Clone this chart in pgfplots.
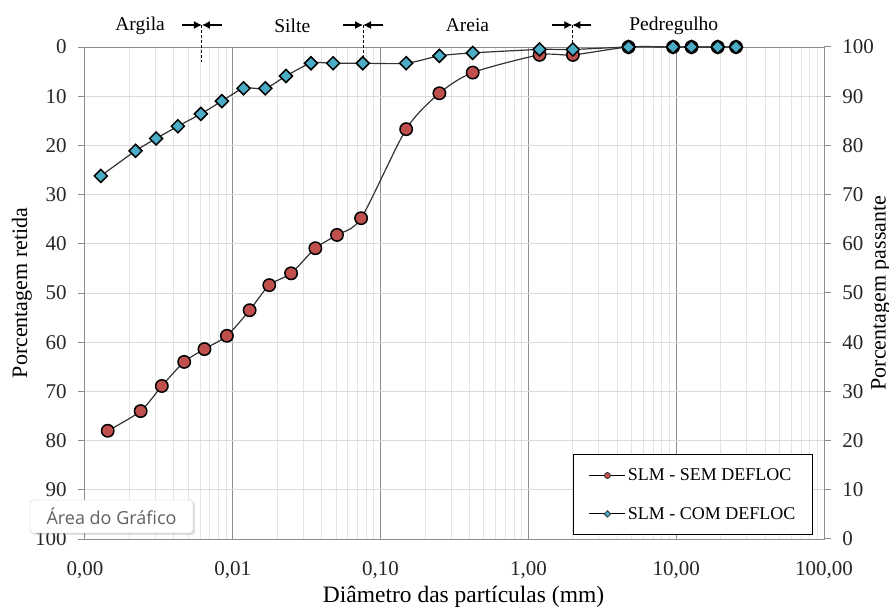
\documentclass[border=0pt]{standalone}
\usepackage{fontspec}
\setmainfont{Liberation Serif}
\newfontfamily\uifont{Open Sans}
\usepackage{pgfplots}
\pgfplotsset{compat=1.18}
\usetikzlibrary{arrows.meta,shadows}
\definecolor{redc}{HTML}{C0504D}
\definecolor{bluec}{HTML}{4BACC6}
\definecolor{axgray}{HTML}{8C8C8C}
\definecolor{gridlight}{HTML}{D9D9D9}
\definecolor{gridminor}{HTML}{E4E4E4}
\definecolor{linec}{HTML}{333333}
\begin{document}
\begin{tikzpicture}
\path[use as bounding box] (-85pt,-71pt) rectangle (804pt,539pt);
\begin{axis}[
  at={(0pt,0pt)}, anchor=south west, scale only axis,
  width=739pt, height=492pt,
  xmode=log, xmin=0.001, xmax=100,
  ymin=0, ymax=100, y dir=reverse,
  clip=false,
  axis line style={draw=axgray, line width=1pt},
  xtick={0.001,0.01,0.1,1,10,100},
  xticklabels={{0,00},{0,01},{0,10},{1,00},{10,00},{100,00}},
  minor xtick={0.002,0.003,0.004,0.005,0.006,0.007,0.008,0.009,
               0.02,0.03,0.04,0.05,0.06,0.07,0.08,0.09,
               0.2,0.3,0.4,0.5,0.6,0.7,0.8,0.9,
               2,3,4,5,6,7,8,9,20,30,40,50,60,70,80,90},
  xtick style={draw=none}, minor tick style={draw=none},
  xmajorgrids, xminorgrids, ymajorgrids,
  major x grid style={draw=axgray, line width=1pt},
  minor x grid style={draw=gridminor, line width=1pt},
  major y grid style={draw=gridlight, line width=1pt},
  ytick={0,10,...,100},
  ytick pos=left, tick align=outside, major tick length=7pt,
  ytick style={draw=axgray, line width=1pt},
  /pgf/number format/assume math mode=true,
  ticklabel style={font=\fontsize{21}{24}\selectfont, text=black!85},
  xticklabel style={yshift=-12pt},
  yticklabel style={xshift=-8pt},
  xlabel={Diâmetro das partículas (mm)},
  xlabel style={at={(axis description cs:0.5122,0)}, anchor=center, yshift=-58pt, font=\fontsize{23.5}{26}\selectfont},
  ylabel={Porcentagem retida},
  ylabel style={at={(axis description cs:-0.0853,0.5)}, anchor=center, font=\fontsize{22}{26}\selectfont},
  legend style={at={(0.985,0.008)}, anchor=south east, draw=black, line width=0.9pt, fill=white,
     font=\fontsize{18}{20}\selectfont, inner xsep=15pt, inner ysep=12pt, row sep=21pt,
     /tikz/every odd column/.append style={column sep=0pt}},
  legend cell align=left,
  legend image code/.code={\draw[mark repeat=2,mark phase=2,#1] plot coordinates {(0pt,0pt) (18pt,0pt) (36pt,0pt)};},
]
\addplot[forget plot, draw=linec, line width=1.2pt, smooth, tension=0.45,
  mark=*, mark size=6.2pt, mark options={fill=redc, draw=black, line width=1.5pt}]
coordinates {
(0.001425,78.0) (0.00238,74.0) (0.00331,68.9) (0.00469,64.0) (0.00643,61.4)
(0.00912,58.7) (0.0130,53.5) (0.01765,48.4) (0.0248,46.0) (0.0362,40.9)
(0.0507,38.2) (0.0738,34.8) (0.149,16.7) (0.25,9.4) (0.42,5.2)
(1.19,1.6) (2.0,1.6) (4.76,0) (9.52,0) (12.7,0) (19.1,0) (25.4,0)
};
\addplot[forget plot, draw=linec, line width=1.2pt, smooth, tension=0.45,
  mark=square*, mark size=4.6pt, mark options={rotate=45, fill=bluec, draw=black, line width=1.5pt}]
coordinates {
(0.00128,26.2) (0.0022,21.1) (0.00303,18.6) (0.00425,16.1) (0.00608,13.6)
(0.00843,11.0) (0.01183,8.4) (0.0166,8.4) (0.0229,5.9) (0.0338,3.3)
(0.0477,3.3) (0.0757,3.3) (0.149,3.3) (0.25,1.8) (0.42,1.2)
(1.19,0.5) (2.0,0.5) (4.76,0) (9.52,0) (12.7,0) (19.1,0) (25.4,0)
};
\addlegendimage{draw=black, line width=1pt, mark=*, mark size=3pt, mark options={fill=redc, draw=black!80, line width=0.8pt}}
\addlegendentry{SLM - SEM DEFLOC}
\addlegendimage{draw=black, line width=1pt, mark=square*, mark size=2.3pt, mark options={rotate=45, fill=bluec, draw=black!80, line width=0.8pt}}
\addlegendentry{SLM - COM DEFLOC}
% soil fraction annotations
\begin{scope}[font=\fontsize{19.5}{22}\selectfont]
\node at (axis cs:0.00236,-4.4) {Argila};
\node at (axis cs:0.02526,-4.4) {Silte};
\node at (axis cs:0.387,-4.4) {Areia};
\node at (axis cs:9.63,-4.4) {Pedregulho};
\end{scope}
\begin{scope}[line width=1.2pt, black]
\draw[-{Latex[length=8pt,width=8pt]}] (axis cs:0.00452,-4.47) -- (axis cs:0.00618,-4.47);
\draw[-{Latex[length=8pt,width=8pt]}] (axis cs:0.00844,-4.47) -- (axis cs:0.00618,-4.47);
\draw[dash pattern=on 3pt off 2pt, line width=1pt] (axis cs:0.00618,-4.47) -- (axis cs:0.00618,3.05);
\draw[-{Latex[length=8pt,width=8pt]}] (axis cs:0.0560,-4.47) -- (axis cs:0.0761,-4.47);
\draw[-{Latex[length=8pt,width=8pt]}] (axis cs:0.1044,-4.47) -- (axis cs:0.0761,-4.47);
\draw[dash pattern=on 3pt off 2pt, line width=1pt] (axis cs:0.0761,-4.47) -- (axis cs:0.0761,3.05);
\draw[-{Latex[length=8pt,width=8pt]}] (axis cs:1.452,-4.47) -- (axis cs:1.983,-4.47);
\draw[-{Latex[length=8pt,width=8pt]}] (axis cs:2.639,-4.47) -- (axis cs:1.983,-4.47);
\draw[dash pattern=on 3pt off 2pt, line width=1pt] (axis cs:1.983,-4.47) -- (axis cs:1.983,0.8);
\end{scope}
\end{axis}
\begin{axis}[
  at={(0pt,0pt)}, anchor=south west, scale only axis,
  width=739pt, height=492pt,
  xmode=log, xmin=0.001, xmax=100,
  ymin=0, ymax=100,
  axis x line=none, axis y line*=right,
  axis line style={draw=axgray, line width=1pt, -},
  ytick={0,10,...,100},
  tick align=outside, major tick length=7pt,
  ytick style={draw=axgray, line width=1pt},
  /pgf/number format/assume math mode=true,
  yticklabel style={font=\fontsize{21}{24}\selectfont, text=black!85, xshift=8pt},
  ylabel={Porcentagem passante},
  ylabel style={at={(axis description cs:1.0767,0.5)}, anchor=center, font=\fontsize{22}{26}\selectfont},
]
\addplot[draw=none, forget plot] coordinates {(1,0)};
\end{axis}
\node[draw=black!22, fill=white, rounded corners=3pt, drop shadow={opacity=0.25, shadow xshift=2pt, shadow yshift=-2pt},
      minimum width=163pt, minimum height=33pt, inner sep=0pt, text=black!62,
      font=\uifont\fontsize{18}{20}\selectfont] at (26.5pt,22.5pt) {Área do Gráfico};
\end{tikzpicture}
\end{document}
